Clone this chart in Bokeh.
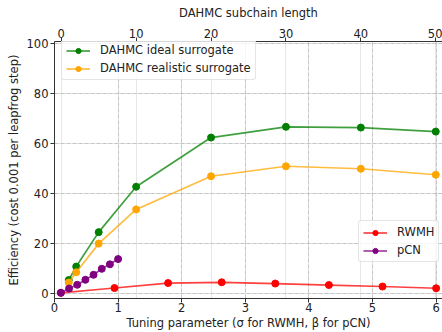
from bokeh.plotting import figure
from bokeh.models import (Range1d, LinearAxis, FixedTicker, Grid, Legend, LegendItem)
from bokeh.embed import file_html
from bokeh.resources import INLINE

# ---- data ----
subchain_len = [1, 2, 5, 10, 20, 30, 40, 50]
dahmc_ideal = [5.3, 10.7, 24.5, 42.7, 62.4, 66.7, 66.4, 64.8]
dahmc_real = [4.3, 8.4, 19.9, 33.6, 46.9, 50.9, 49.9, 47.5]

rwmh_sigma = [0.1, 0.943, 1.786, 2.629, 3.471, 4.314, 5.157, 6.0]
rwmh_eff = [0.16, 2.1, 4.1, 4.4, 3.9, 3.3, 2.7, 2.0]

pcn_beta = [0.1, 0.229, 0.357, 0.486, 0.614, 0.743, 0.871, 1.0]
pcn_eff = [0.2, 1.9, 3.4, 5.4, 7.4, 9.8, 11.6, 13.7]

bottom_ticks = [0, 1, 2, 3, 4, 5, 6]
top_ticks = [0, 10, 20, 30, 40, 50]
y_ticks = [0, 20, 40, 60, 80, 100]

FONT = "DejaVu Sans"
FS = "11.5px"
TXT = "#222222"
SPINE = "#333333"

p = figure(width=442, height=332, output_backend="svg", toolbar_location=None,
           x_range=Range1d(0, 6.1), y_range=Range1d(-2.1, 100.9),
           min_border_left=54, min_border_right=0, min_border_top=41, min_border_bottom=33,
           x_axis_location=None, y_axis_location=None)
p.outline_line_color = None
p.background_fill_color = "white"
p.border_fill_color = "white"
p.extra_x_ranges = {"top": Range1d(-0.9, 50.9)}

def style_axis(ax, ls=2, als=2):
    ax.axis_line_color = SPINE
    ax.axis_line_width = 1
    ax.major_tick_line_color = SPINE
    ax.major_tick_out = 4
    ax.major_tick_in = 0
    ax.minor_tick_out = 0
    ax.minor_tick_in = 0
    ax.major_label_text_font = FONT
    ax.major_label_text_font_size = FS
    ax.major_label_text_color = TXT
    ax.axis_label_text_font = FONT
    ax.axis_label_text_font_size = FS
    ax.axis_label_text_font_style = "normal"
    ax.axis_label_text_color = TXT
    ax.major_label_standoff = ls
    ax.axis_label_standoff = als

xb = LinearAxis(ticker=FixedTicker(ticks=bottom_ticks),
                axis_label="Tuning parameter (σ for RWMH, β for pCN)")
style_axis(xb, 0, 1)
p.add_layout(xb, "below")

xt = LinearAxis(x_range_name="top", ticker=FixedTicker(ticks=top_ticks),
                axis_label="DAHMC subchain length")
style_axis(xt, 0, 6)
p.add_layout(xt, "above")

yl = LinearAxis(ticker=FixedTicker(ticks=y_ticks),
                axis_label="Efficiency (cost 0.001 per leapfrog step)")
style_axis(yl, 2, 3)
p.add_layout(yl, "left")

# grids
gx = Grid(dimension=0, ticker=xb.ticker, grid_line_color="#b0b0b0", grid_line_alpha=0.6,
          grid_line_dash="4 2", grid_line_width=1)
gy = Grid(dimension=1, ticker=yl.ticker, grid_line_color="#b0b0b0", grid_line_alpha=0.6,
          grid_line_dash="4 2", grid_line_width=1)
gt = Grid(dimension=0, ticker=xt.ticker, x_range_name="top", grid_line_color="#b0b0b0",
          grid_line_alpha=0.3, grid_line_width=1)
p.add_layout(gt)
p.add_layout(gx)
p.add_layout(gy)

def series(x, y, color, top=False):
    kw = {"x_range_name": "top"} if top else {}
    l = p.line(x, y, line_color=color, line_width=1.7, line_alpha=0.75, **kw)
    s = p.scatter(x, y, size=7, fill_color=color, line_color=color, **kw)
    return [l, s]

r_ideal = series(subchain_len, dahmc_ideal, "green", top=True)
r_real = series(subchain_len, dahmc_real, "orange", top=True)
r_rwmh = series(rwmh_sigma, rwmh_eff, "red")
r_pcn = series(pcn_beta, pcn_eff, "purple")

def make_legend(items, loc):
    lg = Legend(items=items, location=loc,
                label_text_font=FONT, label_text_font_size=FS, label_text_color=TXT,
                glyph_width=24, glyph_height=13, label_height=13, label_standoff=10,
                spacing=4, padding=4, margin=0,
                background_fill_color="white", background_fill_alpha=0.8,
                border_line_color="#cccccc", border_line_width=1, border_radius=3)
    return lg

leg1 = make_legend([LegendItem(label="DAHMC ideal surrogate", renderers=r_ideal),
                    LegendItem(label="DAHMC realistic surrogate", renderers=r_real)],
                   (7, 218))
leg2 = make_legend([LegendItem(label="RWMH", renderers=r_rwmh),
                    LegendItem(label="pCN", renderers=r_pcn)],
                   (304, 36))
p.add_layout(leg1)
p.add_layout(leg2)

open("out.html", "w").write(file_html(p, INLINE))
